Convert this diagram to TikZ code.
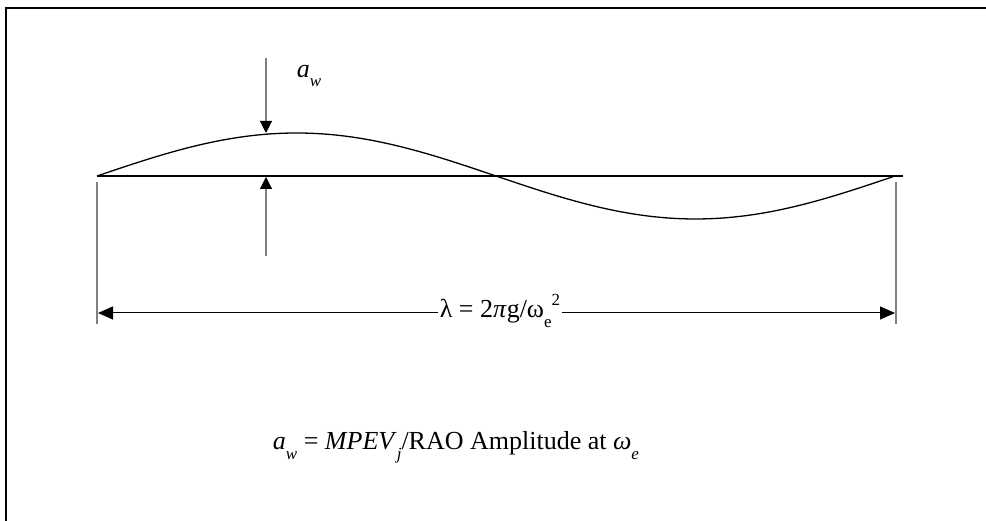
\documentclass[tikz,border=0pt]{standalone}
\usepackage{fontspec}
\setmainfont{Liberation Serif}
\usetikzlibrary{arrows.meta}
\newcommand\mysub[1]{\raisebox{-0.38em}{\fontsize{17}{17}\selectfont #1}}
\newcommand\mysup[1]{\raisebox{0.45em}{\fontsize{17}{17}\selectfont #1}}
\begin{document}
\begin{tikzpicture}[x=1pt,y=1pt,
  txt/.style={font=\fontsize{26}{30}\selectfont, inner sep=1pt},
  greyline/.style={draw=black!50, line width=1.1pt},
  vtip/.style={-{Triangle[length=12pt,width=12pt,color=black]}},
  dtip/.style={{Triangle[length=15pt,width=13pt]}-{Triangle[length=15pt,width=13pt]}},
  wave/.style={line width=1.3pt}]
\useasboundingbox (0,0) rectangle (986,521);
% frame
\draw[line width=2pt] (6,0) -- (6,513) -- (986,513);
% wave and baseline
\coordinate (bl) at (97,345);
\coordinate (br) at (903,345);
\draw[line width=1.3pt] (bl) -- (br);
\draw[wave] plot[domain=0:360, samples=120] ({97+\x*2.21667}, {345+43*sin(\x)});
% amplitude arrows
\coordinate (t0) at (266,463);
\coordinate (t1) at (266,388);
\coordinate (b0) at (266,265);
\coordinate (b1) at (266,344);
\draw[greyline, vtip] (t0) -- (t1);
\draw[greyline, vtip] (b0) -- (b1);
\node[txt] (aw) at (309,445) {\textit{a}\mysub{\textit{w}}};
% extension lines
\coordinate (el0) at (97,339);
\coordinate (el1) at (97,197);
\coordinate (er0) at (896,339);
\coordinate (er1) at (896,197);
\draw[greyline] (el0) -- (el1);
\draw[greyline] (er0) -- (er1);
% dimension line
\coordinate (d0) at (98,208);
\coordinate (d1) at (895,208);
\draw[line width=1pt, dtip] (d0) -- (d1);
\node[txt, fill=white, inner sep=2pt] (lam) at (500,210) {λ = 2\textit{π}g/ω\mysub{e}\mysup{2}};
% formula
\node[txt] (form) at (456,74) {\textit{a}\mysub{\textit{w}} = \textit{MPEV}\mysub{\textit{j}}/RAO Amplitude at \textit{ω}\mysub{\textit{e}}};
\end{tikzpicture}
\end{document}
